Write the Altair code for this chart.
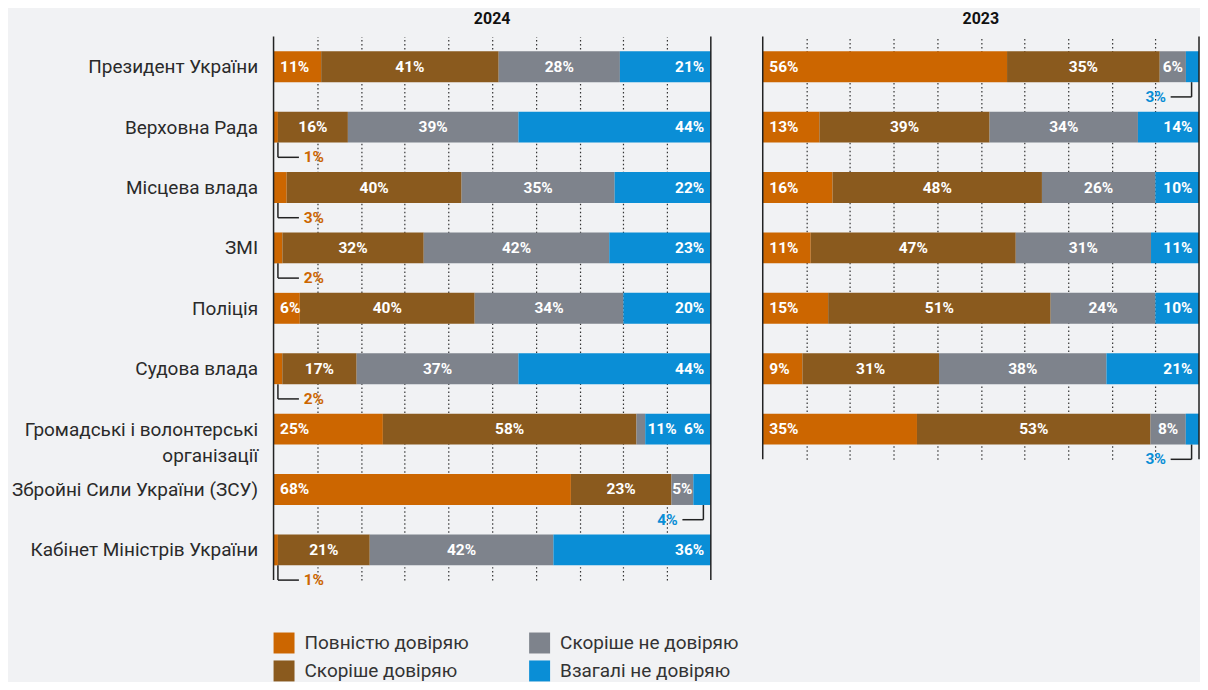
import json
import altair as alt
import pandas as pd

SERIES = ["Повністю довіряю", "Скоріше довіряю", "Скоріше не довіряю", "Взагалі не довіряю"]
COLORS = ["#cc6600", "#8a5a1e", "#7e838c", "#0a8ed6"]

CATS_2024 = ["Президент України", "Верховна Рада", "Місцева влада", "ЗМІ", "Поліція",
             "Судова влада", "Громадські і волонтерські організації",
             "Збройні Сили України (ЗСУ)", "Кабінет Міністрів України"]
FULL_2024 = [11, 1, 3, 2, 6, 2, 25, 68, 1]
RATHER_2024 = [41, 16, 40, 32, 40, 17, 58, 23, 21]
RATHER_NOT_2024 = [28, 39, 35, 42, 34, 37, 2, 5, 42]
NOT_2024 = [21, 44, 22, 23, 20, 44, 15, 4, 36]
# printed labels that differ from drawn widths in the source
OVERRIDES_2024 = {(6, 2): "11%", (6, 3): "6%"}

CATS_2023 = CATS_2024[:7]
FULL_2023 = [56, 13, 16, 11, 15, 9, 35]
RATHER_2023 = [35, 39, 48, 47, 51, 31, 53]
RATHER_NOT_2023 = [6, 34, 26, 31, 24, 38, 8]
NOT_2023 = [3, 14, 10, 11, 10, 21, 3]
OVERRIDES_2023 = {}

LONG_CAT = "Громадські і волонтерські організації"
LONG_CAT_LINES = ["Громадські і волонтерські", "організації"]

STEP = 60.5
HALF = 0.256
FONT = "Roboto"
INK = "#222222"


def build(cats, series_vals, overrides):
    bars, labels, calls = [], [], []
    for i, cat in enumerate(cats):
        vals = [sv[i] for sv in series_vals]
        tot = sum(vals)
        cum = 0
        for k, (s, v) in enumerate(zip(SERIES, vals)):
            x0 = cum / tot * 100
            cum += v
            x1 = cum / tot * 100
            bars.append(dict(row=i, cat=cat, series=s, x0=x0, x1=x1,
                             yt=i - HALF, yb=i + HALF))
            txt = overrides.get((i, k), f"{v}%")
            if k == 0:
                if v <= 4:
                    calls.append(dict(row=i, yb=i + HALF, yc=i + 0.5, xa=1.0, xb=5.8,
                                      lx=6.9, side="left", text=txt, col=COLORS[0]))
                else:
                    labels.append(dict(row=i, lx=x0 + 1.5, align="left", text=txt))
            elif k == 1:
                labels.append(dict(row=i, lx=(x0 + x1) / 2, align="center", text=txt))
            elif k == 2:
                if v < 4:
                    labels.append(dict(row=i, lx=x1 + 0.5, align="left", text=txt))
                else:
                    labels.append(dict(row=i, lx=(x0 + x1) / 2, align="center", text=txt))
            else:
                if v <= 4:
                    calls.append(dict(row=i, yb=i + HALF, yc=i + 0.5, xa=98.3, xb=93.5,
                                      lx=92.4, side="right", text=txt, col=COLORS[3]))
                else:
                    labels.append(dict(row=i, lx=x1 - 1.5, align="right", text=txt))
    return pd.DataFrame(bars), pd.DataFrame(labels), pd.DataFrame(calls)


def panel(title, cats, series_vals, overrides, width, show_y, show_legend):
    n = len(cats)
    bars, labels, calls = build(cats, series_vals, overrides)
    xs = alt.Scale(domain=[0, 100], nice=False, zero=False)
    ys = alt.Scale(domain=[-0.5, n - 0.5], reverse=True, nice=False, zero=False)
    if show_y:
        items = [json.dumps(LONG_CAT_LINES if c == LONG_CAT else c, ensure_ascii=False) for c in cats]
        yaxis = alt.Axis(values=list(range(n)), labelExpr="[" + ",".join(items) + "][datum.value]",
                         ticks=False, domain=False, grid=False, title=None, labelPadding=16,
                         labelFontSize=19, labelColor="#2a2a2a", labelFont=FONT,
                         labelLineHeight=26, minExtent=266, maxExtent=266, labelLimit=400)
    else:
        yaxis = None
    xaxis = alt.Axis(values=list(range(10, 100, 10)), labels=False, ticks=False, domain=False,
                     grid=True, gridDash=[1.5, 2.5], gridColor="#333333", gridWidth=1.2, title=None)

    legend = alt.Legend(columns=2, title=None) if show_legend else None

    base_bar = alt.Chart(bars).mark_rect().encode(
        x=alt.X("x0:Q", scale=xs, axis=xaxis),
        x2="x1:Q",
        y=alt.Y("yt:Q", scale=ys, axis=yaxis),
        y2="yb:Q",
        color=alt.Color("series:N", scale=alt.Scale(domain=SERIES, range=COLORS), legend=legend),
    )
    edges = alt.Chart(pd.DataFrame({"e": [0, 100]})).mark_rule(color=INK, strokeWidth=1.5).encode(
        x=alt.X("e:Q", scale=xs))

    layers = [base_bar, edges]
    for al in ["left", "center", "right"]:
        sub = labels[labels["align"] == al]
        if len(sub):
            layers.append(alt.Chart(sub).mark_text(align=al, baseline="middle", color="white",
                                                   font=FONT, fontSize=15.5, fontWeight="bold").encode(
                x=alt.X("lx:Q", scale=xs), y=alt.Y("row:Q", scale=ys), text="text:N"))
    if len(calls):
        layers.append(alt.Chart(calls).mark_rule(color=INK, strokeWidth=1.5).encode(
            x=alt.X("xa:Q", scale=xs), y=alt.Y("yb:Q", scale=ys), y2="yc:Q"))
        layers.append(alt.Chart(calls).mark_rule(color=INK, strokeWidth=1.5).encode(
            x=alt.X("xa:Q", scale=xs), x2="xb:Q", y=alt.Y("yc:Q", scale=ys)))
        for side in ["left", "right"]:
            sub = calls[calls["side"] == side]
            if len(sub):
                layers.append(alt.Chart(sub).mark_text(align=side, baseline="middle", font=FONT,
                                                       fontSize=15.5, fontWeight="bold").encode(
                    x=alt.X("lx:Q", scale=xs), y=alt.Y("yc:Q", scale=ys), text="text:N",
                    color=alt.Color("col:N", scale=None)))
    return alt.layer(*layers).properties(
        width=width, height=n * STEP,
        title=alt.Title(title, fontSize=16, fontWeight="bold", font=FONT, color="#111111",
                        offset=9, anchor="middle"))


c24 = panel("2024", CATS_2024, [FULL_2024, RATHER_2024, RATHER_NOT_2024, NOT_2024],
            OVERRIDES_2024, 438, True, True)
c23 = panel("2023", CATS_2023, [FULL_2023, RATHER_2023, RATHER_NOT_2023, NOT_2023],
            OVERRIDES_2023, 437, False, False)

chart = alt.hconcat(c24, c23, spacing=50).resolve_scale(color="shared").configure(
    background="#f1f2f4",
    padding={"left": 0, "top": 2, "right": 0, "bottom": 0},
    font=FONT,
).configure_view(stroke=None).configure_legend(
    orient="none", legendX=0, legendY=597, columns=2, direction="vertical",
    symbolType="square", symbolSize=441, symbolStrokeWidth=0, symbolOpacity=1,
    labelFontSize=19, labelColor="#333333", labelFont=FONT, labelOffset=10, labelLimit=400,
    columnPadding=60, rowPadding=7, titleFontSize=0, padding=0,
)

chart.save("out.html", embed_options={"renderer": "svg", "actions": False})
